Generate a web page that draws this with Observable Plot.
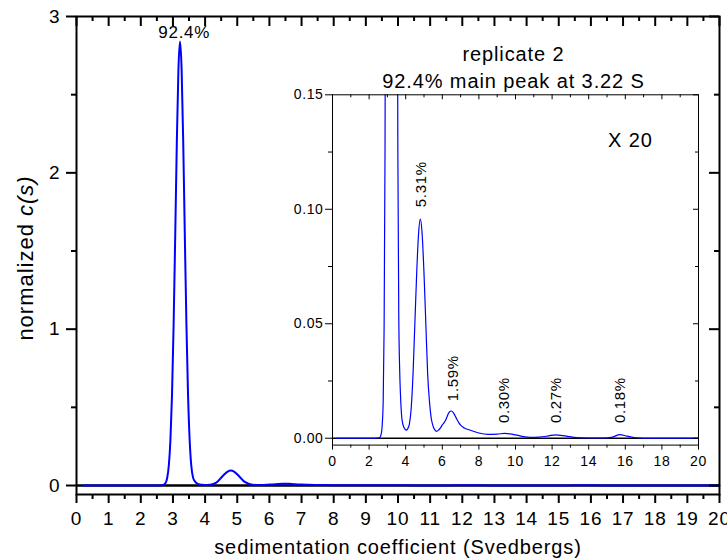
<!DOCTYPE html>
<html><head><meta charset="utf-8">
<script src="https://cdn.jsdelivr.net/npm/d3@7"></script>
<script src="https://cdn.jsdelivr.net/npm/@observablehq/plot@0.6"></script>
<style>
body{margin:0;background:#fff;}
#wrap{position:relative;width:727px;height:558px;overflow:hidden;font-family:"Liberation Sans",Arial,sans-serif;}
#wrap svg{position:absolute;}
#wrap text{letter-spacing:0.045em;}
</style></head><body><div id="wrap"></div>
<script>
// sedimentation coefficient (S) and normalized c(s)
const sValues = [0.2, 1, 2, 2.5, 2.6, 2.65, 2.7, 2.77, 2.82, 2.87, 2.92, 2.97, 3.02, 3.07, 3.12, 3.17, 3.22, 3.27, 3.32, 3.37, 3.42, 3.47, 3.52, 3.57, 3.62, 3.67, 3.72, 3.8, 3.9, 4.0, 4.05, 4.1, 4.2, 4.3, 4.4, 4.5, 4.6, 4.7, 4.8, 4.9, 5.0, 5.1, 5.2, 5.3, 5.4, 5.5, 5.6, 5.68, 5.8, 5.9, 6.0, 6.1, 6.2, 6.3, 6.4, 6.5, 6.6, 6.7, 6.8, 6.9, 7.0, 7.2, 7.5, 8.0, 8.5, 9.0, 9.4, 9.8, 10.3, 10.8, 11.3, 11.8, 12.2, 12.6, 13.2, 14.0, 14.8, 15.3, 15.7, 16.1, 16.6, 17, 18, 19, 20];
const cValues = [0, 0, 0, 0.0001, 0.0005, 0.0015, 0.004, 0.016, 0.048, 0.125, 0.285, 0.575, 1.02, 1.59, 2.19, 2.66, 2.84, 2.66, 2.19, 1.59, 1.02, 0.575, 0.29, 0.128, 0.055, 0.03, 0.018, 0.008, 0.0048, 0.0037, 0.0035, 0.004, 0.0062, 0.013, 0.028, 0.05, 0.072, 0.089, 0.0957, 0.089, 0.072, 0.05, 0.028, 0.016, 0.0085, 0.0052, 0.0035, 0.003, 0.0036, 0.0045, 0.0058, 0.0068, 0.0082, 0.0102, 0.0116, 0.0119, 0.0112, 0.0098, 0.0082, 0.0068, 0.0057, 0.0045, 0.0036, 0.0023, 0.0017, 0.0018, 0.0021, 0.0018, 0.0009, 0.0004, 0.0005, 0.001, 0.0015, 0.0011, 0.0004, 0.0001, 0.0001, 0.0005, 0.0016, 0.0009, 0.0002, 0, 0, 0, 0];

// main axes ticks
const mainXTicks = [0,1,2,3,4,5,6,7,8,9,10,11,12,13,14,15,16,17,18,19,20];
const mainXMinor = [0.5,1.5,2.5,3.5,4.5,5.5,6.5,7.5,8.5,9.5,10.5,11.5,12.5,13.5,14.5,15.5,16.5,17.5,18.5,19.5];
const mainYTicks = [0,1,2,3];
const mainYMinor = [0.5,1.5,2.5];
// inset ticks
const insetXTicks = [0,2,4,6,8,10,12,14,16,18,20];
const insetXMinor = [1,3,5,7,9,11,13,15,17,19];
const insetYTicks = [0,0.05,0.10,0.15];
const insetYMinor = [0.025,0.075,0.125];

// annotations
const mainLabelText = ["92.4%"];
const mainLabelS = [3.35];
const mainLabelC = [2.895];
const insetLabelText = ["5.31%","1.59%","0.30%","0.27%","0.18%"];
const insetLabelS = [4.86, 6.58, 9.4, 12.24, 15.7];
const insetLabelC = [0.1009, 0.0162, 0.0066, 0.0066, 0.0066];
const titleLines = ["replicate 2", "92.4% main peak at 3.22 S"];
const scaleNote = ["X 20"];
const scaleNoteS = [16.28], scaleNoteC = [0.1302];
const xLabel = "sedimentation coefficient (Svedbergs)";

const data = sValues.map((s,i)=>({s, c:cValues[i]}));
const mainLabels = mainLabelText.map((t,i)=>({t, s:mainLabelS[i], c:mainLabelC[i]}));
const insetLabels = insetLabelText.map((t,i)=>({t, s:insetLabelS[i], c:insetLabelC[i]}));
const notes = scaleNote.map((t,i)=>({t, s:scaleNoteS[i], c:scaleNoteC[i]}));

const font = "'Liberation Sans', Arial, sans-serif";
const blue = "#0000ff";

// ---------- main plot ----------
const W = 727, H = 558, mT = 16, mL = 76, mR = 8, mB = 64;
const pw = W - mL - mR, ph = H - mT - mB;
const mainPlot = Plot.plot({
  width: W, height: H,
  marginTop: mT, marginLeft: mL, marginRight: mR, marginBottom: mB,
  style: {fontFamily: font, fontSize: "19px", background: "transparent", overflow: "visible", color: "black"},
  x: {domain: [0, 20]},
  y: {domain: [-0.0575, 3]},
  marks: [
    Plot.ruleY([0], {stroke: "black", strokeWidth: 2.5}),
    Plot.line(data, {x: "s", y: "c", stroke: blue, strokeWidth: 2, curve: "monotone-x"}),
    Plot.frame({stroke: "black", strokeWidth: 2}),
    Plot.axisX(mainXTicks, {tickSize: 9, tickPadding: 8, strokeWidth: 2, fontSize: 19, tickFormat: d3.format("d"), label: null}),
    Plot.axisX(mainXMinor, {tickSize: 5, strokeWidth: 2, tickFormat: () => "", label: null}),
    Plot.axisY(mainYTicks, {tickSize: 10, tickPadding: 6, strokeWidth: 2, fontSize: 19, tickFormat: d3.format("d"), label: null}),
    Plot.axisY(mainYMinor, {tickSize: 5, strokeWidth: 2, tickFormat: () => "", label: null}),
    Plot.tickX(mainXTicks, {x: d => d, insetBottom: ph - 10, strokeWidth: 2}),
    Plot.tickX(mainXMinor, {x: d => d, insetBottom: ph - 5, strokeWidth: 2}),
    Plot.tickY(mainYTicks, {y: d => d, insetLeft: pw - 10, strokeWidth: 2}),
    Plot.tickY(mainYMinor, {y: d => d, insetLeft: pw - 5, strokeWidth: 2}),
    Plot.text(mainLabels, {x: "s", y: "c", text: "t", fontSize: 17, fill: "black"}),
    Plot.text([xLabel], {frameAnchor: "bottom", dy: 59, lineAnchor: "bottom", fontSize: 20, fill: "black"})
  ]
});
const yl = d3.select(mainPlot).append("text")
  .attr("transform", "translate(33,258) rotate(-90)")
  .attr("text-anchor", "middle").attr("font-size", 22).attr("fill", "black");
yl.append("tspan").text("normalized ");
yl.append("tspan").attr("font-style", "italic").text("c(s)");
mainPlot.style.left = "0px"; mainPlot.style.top = "0px";
document.getElementById("wrap").appendChild(mainPlot);

// ---------- inset ----------
const iL = 270, iT = 20, iW = 440, iH = 460;
const imT = 74.3, imL = 62, imR = 12, imB = 35.4;
const ipw = iW - imL - imR, iph = iH - imT - imB;
const inset = Plot.plot({
  width: iW, height: iH,
  marginTop: imT, marginLeft: imL, marginRight: imR, marginBottom: imB,
  style: {fontFamily: font, fontSize: "14px", background: "transparent", overflow: "visible", color: "black"},
  x: {domain: [0, 20]},
  y: {domain: [-0.003, 0.15]},
  marks: [
    Plot.ruleY([0], {stroke: "black", strokeWidth: 1.5}),
    Plot.line(data, {x: "s", y: "c", stroke: blue, strokeWidth: 1.2, curve: "monotone-x", clip: true}),
    Plot.frame({stroke: "black", strokeWidth: 1}),
    Plot.axisX(insetXTicks, {tickSize: 5, tickPadding: 6, fontSize: 14, tickFormat: d3.format("d"), label: null}),
    Plot.axisX(insetXMinor, {tickSize: 3, tickFormat: () => "", label: null}),
    Plot.axisY(insetYTicks, {tickSize: 7, tickPadding: 2, fontSize: 14, tickFormat: d3.format(".2f"), label: null}),
    Plot.axisY(insetYMinor, {tickSize: 4, tickFormat: () => "", label: null}),
    Plot.tickX(insetXTicks, {x: d => d, insetBottom: iph - 5}),
    Plot.tickX(insetXMinor, {x: d => d, insetBottom: iph - 3}),
    Plot.tickY(insetYTicks, {y: d => d, insetLeft: ipw - 5}),
    Plot.tickY(insetYMinor, {y: d => d, insetLeft: ipw - 3}),
    Plot.text(insetLabels, {x: "s", y: "c", text: "t", rotate: -90, textAnchor: "start", fontSize: 15, fill: "black"}),
    Plot.text(notes, {x: "s", y: "c", text: "t", fontSize: 20, fill: "black"}),
    Plot.text([titleLines[0]], {frameAnchor: "top", dy: -48.5, dx: -2, fontSize: 20, fill: "black"}),
    Plot.text([titleLines[1]], {frameAnchor: "top", dy: -21, dx: -2, fontSize: 20, fill: "black"})
  ]
});
inset.style.left = iL + "px"; inset.style.top = iT + "px";
document.getElementById("wrap").appendChild(inset);
</script></body></html>
